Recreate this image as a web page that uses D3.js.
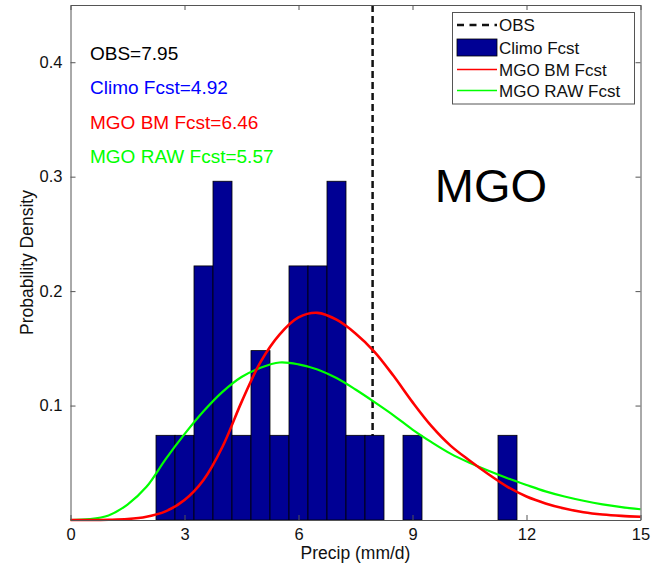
<!DOCTYPE html>
<html>
<head>
<meta charset="utf-8">
<script src="https://cdn.jsdelivr.net/npm/d3@7/dist/d3.min.js"></script>
<style>
  html, body { margin: 0; padding: 0; background: #fff; }
  svg { display: block; font-family: "Liberation Sans", Arial, Helvetica, sans-serif; }
</style>
</head>
<body>
<svg id="chart" width="653" height="566"></svg>
<script>
// Climatological histogram: bin left edges (mm/d) and density per bin (bin width 0.5)
const binWidth = 0.5;
const climoEdges   = [2.25, 2.75, 3.25, 3.75, 4.25, 4.75, 5.25, 5.75, 6.25, 6.75, 7.25, 7.75, 8.75, 11.25];
const climoDensity = [0.074, 0.074, 0.222, 0.296, 0.074, 0.148, 0.074, 0.222, 0.222, 0.296, 0.074, 0.074, 0.074, 0.074];

// Forecast density curves sampled along precip (mm/d)
const curveX = [0, 0.5, 1, 1.5, 2, 2.5, 3, 3.5, 4, 4.5, 5, 5.5, 6, 6.5, 7, 7.5,
                8, 8.5, 9, 9.5, 10, 10.5, 11, 11.5, 12, 12.5, 13, 13.5, 14, 14.5, 15];
const bmDensity  = [0, 0, 0.0002, 0.0008, 0.0028, 0.0075, 0.0175, 0.035, 0.064, 0.103, 0.138, 0.162,
                    0.177, 0.181, 0.175, 0.163, 0.147, 0.126, 0.103, 0.082, 0.065, 0.052, 0.040,
                    0.029, 0.0205, 0.0145, 0.010, 0.0068, 0.0048, 0.0036, 0.0029];
const rawDensity = [0, 0.0007, 0.004, 0.0135, 0.029, 0.053, 0.075, 0.095, 0.112, 0.125, 0.133, 0.1376,
                    0.136, 0.1315, 0.124, 0.114, 0.103, 0.0915, 0.079, 0.068, 0.058, 0.050, 0.043,
                    0.0365, 0.0306, 0.025, 0.0205, 0.0168, 0.0137, 0.0113, 0.0094];

const obsValue = 7.95;
const xTicks = [0, 3, 6, 9, 12, 15];
const yTicks = [0.1, 0.2, 0.3, 0.4];

const annotations = [
  { text: "OBS=7.95",          color: "#000000" },
  { text: "Climo Fcst=4.92",   color: "#0000ff" },
  { text: "MGO BM Fcst=6.46",  color: "#ff0000" },
  { text: "MGO RAW Fcst=5.57", color: "#00ff00" }
];
const legendItems = [
  { label: "OBS",          kind: "dash" },
  { label: "Climo Fcst",   kind: "rect" },
  { label: "MGO BM Fcst",  kind: "line", color: "#ff0000" },
  { label: "MGO RAW Fcst", kind: "line", color: "#00ff00" }
];

const barColor = "#000094";
const axisColor = "#555";

const margin = { left: 70.5, right: 12.5, top: 5, bottom: 46 };
const W = 653, H = 566;
const svg = d3.select("#chart");

const x = d3.scaleLinear().domain([0, 15]).range([margin.left, W - margin.right]);
const y = d3.scaleLinear().domain([0, 0.45]).range([H - margin.bottom, margin.top]);

// Observation line sits behind the histogram
svg.append("line")
  .attr("x1", x(obsValue)).attr("x2", x(obsValue))
  .attr("y1", y(0.45)).attr("y2", y(0))
  .attr("stroke", "#111").attr("stroke-width", 2.5)
  .attr("stroke-dasharray", "7,4");

// Histogram bars
svg.append("g").selectAll("rect")
  .data(climoEdges.map((e, i) => ({ e, d: climoDensity[i] })))
  .join("rect")
  .attr("x", d => x(d.e))
  .attr("width", d => x(d.e + binWidth) - x(d.e))
  .attr("y", d => y(d.d))
  .attr("height", d => y(0) - y(d.d))
  .attr("fill", barColor)
  .attr("stroke", "#000")
  .attr("stroke-width", 0.8);

// Density curves
const line = d3.line().curve(d3.curveCatmullRom.alpha(0.5));
function drawCurve(vals, color, width) {
  svg.append("path")
    .attr("d", line(curveX.map((v, i) => [x(v), y(vals[i])])))
    .attr("fill", "none").attr("stroke", color).attr("stroke-width", width)
    .attr("stroke-linejoin", "round");
}
drawCurve(rawDensity, "#00ff00", 2.2);
drawCurve(bmDensity, "#ff0000", 2.6);

// Axes box with inward ticks on all sides
const tickLen = 5;
const axB = d3.axisBottom(x).tickValues(xTicks).tickSizeInner(-tickLen).tickSizeOuter(0).tickPadding(8);
const axT = d3.axisTop(x).tickValues(xTicks).tickSizeInner(-tickLen).tickSizeOuter(0).tickFormat("");
const axL = d3.axisLeft(y).tickValues(yTicks).tickSizeInner(-tickLen).tickSizeOuter(0).tickPadding(8).tickFormat(d3.format(".1f"));
const axR = d3.axisRight(y).tickValues(yTicks).tickSizeInner(-tickLen).tickSizeOuter(0).tickFormat("");

function styleAxis(g) {
  g.selectAll("path, line").attr("stroke", axisColor);
  g.selectAll("text").attr("fill", "#111").style("font-size", "16.5px")
    .style("font-family", '"Liberation Sans", Arial, sans-serif');
}
svg.append("g").attr("transform", `translate(0,${y(0)})`).call(axB).call(styleAxis);
svg.append("g").attr("transform", `translate(0,${y(0.45)})`).call(axT).call(styleAxis);
svg.append("g").attr("transform", `translate(${x(0)},0)`).call(axL).call(styleAxis);
svg.append("g").attr("transform", `translate(${x(15)},0)`).call(axR).call(styleAxis);

// Axis titles
svg.append("text")
  .attr("x", (x(0) + x(15)) / 2).attr("y", 559)
  .attr("text-anchor", "middle").style("font-size", "17.5px").attr("fill", "#111")
  .text("Precip (mm/d)");
svg.append("text")
  .attr("transform", `translate(33,${(y(0) + y(0.45)) / 2}) rotate(-90)`)
  .attr("text-anchor", "middle").style("font-size", "17.5px").attr("fill", "#111")
  .text("Probability Density");

// Summary values
svg.append("g").selectAll("text")
  .data(annotations)
  .join("text")
  .attr("x", 90)
  .attr("y", (d, i) => 60 + i * 34.3)
  .attr("fill", d => d.color)
  .style("font-size", "19px")
  .text(d => d.text);

// Model name
svg.append("text")
  .attr("x", 491).attr("y", 202)
  .attr("text-anchor", "middle").style("font-size", "47px").attr("fill", "#000")
  .text("MGO");

// Legend
const lg = svg.append("g");
lg.append("rect")
  .attr("x", 452.5).attr("y", 12.5).attr("width", 182).attr("height", 91.5)
  .attr("fill", "#fff").attr("stroke", axisColor).attr("stroke-width", 1);
const rowY = [25, 47.5, 69.5, 90.5];
legendItems.forEach((d, i) => {
  const cy = rowY[i];
  if (d.kind === "dash") {
    lg.append("line").attr("x1", 457).attr("x2", 497).attr("y1", cy).attr("y2", cy)
      .attr("stroke", "#111").attr("stroke-width", 2.5).attr("stroke-dasharray", "7,5.5");
  } else if (d.kind === "rect") {
    lg.append("rect").attr("x", 457).attr("y", cy - 8.5).attr("width", 40).attr("height", 17)
      .attr("fill", barColor).attr("stroke", "#000").attr("stroke-width", 0.8);
  } else {
    lg.append("line").attr("x1", 457).attr("x2", 497).attr("y1", cy).attr("y2", cy)
      .attr("stroke", d.color).attr("stroke-width", 1.5);
  }
  lg.append("text").attr("x", 499).attr("y", cy).attr("dy", "0.36em")
    .style("font-size", "17px").attr("fill", "#111").text(d.label);
});
</script>
</body>
</html>
